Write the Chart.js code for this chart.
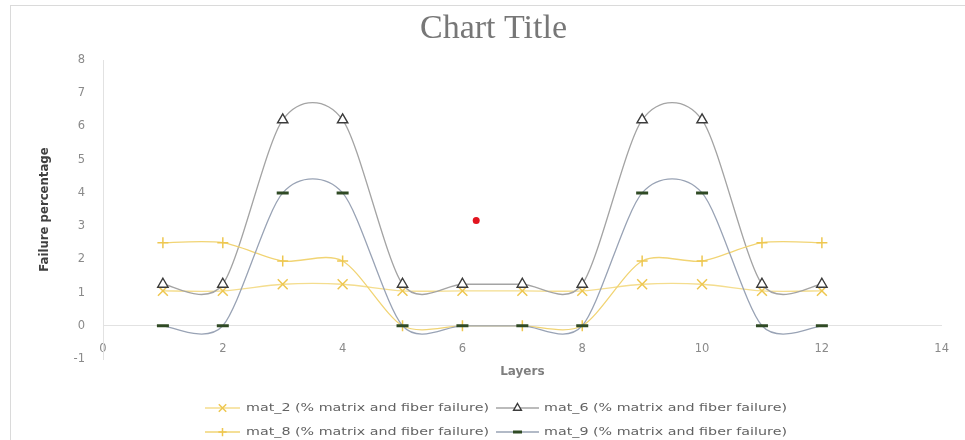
<!DOCTYPE html>
<html>
<head>
<meta charset="utf-8">
<script src="https://cdn.jsdelivr.net/npm/chart.js@4.4.1/dist/chart.umd.min.js"></script>
<style>
  html, body { margin: 0; padding: 0; background: #ffffff; }
  #wrap { position: relative; width: 965px; height: 440px; overflow: hidden; }
  #frame { position: absolute; left: 10px; top: 5px; right: 0; bottom: 0;
           border-top: 1px solid #dadada; border-left: 1px solid #dadada; }
  #chart { position: absolute; left: 0; top: 0; }
</style>
</head>
<body>
<div id="wrap">
  <div id="frame"></div>
  <canvas id="chart" width="965" height="440"></canvas>
</div>
<script>
// Layer numbers along the x axis
const layers = [1, 2, 3, 4, 5, 6, 7, 8, 9, 10, 11, 12];

// Failure percentage per layer for each material
const mat2 = [1.05, 1.05, 1.25, 1.25, 1.05, 1.05, 1.05, 1.05, 1.25, 1.25, 1.05, 1.05];
const mat6 = [1.25, 1.25, 6.2, 6.2, 1.25, 1.25, 1.25, 1.25, 6.2, 6.2, 1.25, 1.25];
const mat8 = [2.5, 2.5, 1.95, 1.95, 0, 0, 0, 0, 1.95, 1.95, 2.5, 2.5];
const mat9 = [0, 0, 4, 4, 0, 0, 0, 0, 4, 4, 0, 0];

// Single loose point on the plot
const loosePoint = [{ x: 6.23, y: 3.17 }];

// Series names
const seriesNames = [
  'mat_2 (% matrix and fiber failure)',
  'mat_6 (% matrix and fiber failure)',
  'mat_8 (% matrix and fiber failure)',
  'mat_9 (% matrix and fiber failure)'
];

// Axis tick values
const xTicks = [0, 2, 4, 6, 8, 10, 12, 14];
const yTicks = [-1, 0, 1, 2, 3, 4, 5, 6, 7, 8];

const toXY = (vals) => layers.map((x, i) => ({ x: x, y: vals[i] }));

Chart.defaults.font.family = '"DejaVu Sans", Verdana, sans-serif';

// Spreadsheet-style smoothing: each control point sits a fixed fraction of the
// neighbour-to-neighbour chord away from its point (uniform Catmull-Rom style).
const smoothFactor = 0.14;
const uniformSmoothing = {
  id: 'uniformSmoothing',
  beforeDatasetDraw(chart, args) {
    const line = args.meta.dataset;
    if (!line || !line.options || !line.options.tension) return;
    line.updateControlPoints(chart.chartArea);
    const pts = args.meta.data;
    const n = pts.length;
    for (let i = 0; i < n; i++) {
      const p = pts[i];
      const prev = pts[Math.max(i - 1, 0)];
      const next = pts[Math.min(i + 1, n - 1)];
      const dx = (next.x - prev.x) * smoothFactor;
      const dy = (next.y - prev.y) * smoothFactor;
      p.cp1x = p.x - dx; p.cp1y = p.y - dy;
      p.cp2x = p.x + dx; p.cp2y = p.y + dy;
    }
    line._path = undefined;
  }
};

// Legend in two rows: line sample with marker, then the series name
const legendRows = [
  { ds: 0, x0: 205, x1: 240, tx: 246, y: 408 },
  { ds: 1, x0: 496, x1: 539, tx: 544, y: 408 },
  { ds: 2, x0: 205, x1: 240, tx: 246, y: 432 },
  { ds: 3, x0: 496, x1: 539, tx: 544, y: 432 }
];
const legendTextWidth = 243;

const seriesLegend = {
  id: 'seriesLegend',
  afterDraw(chart) {
    const ctx = chart.ctx;
    ctx.save();
    ctx.font = '11px "DejaVu Sans", Verdana, sans-serif';
    ctx.textBaseline = 'middle';
    ctx.textAlign = 'left';
    legendRows.forEach((item) => {
      const ds = chart.data.datasets[item.ds];
      ctx.strokeStyle = ds.borderColor;
      ctx.lineWidth = ds.borderWidth;
      ctx.beginPath();
      ctx.moveTo(item.x0, item.y);
      ctx.lineTo(item.x1, item.y);
      ctx.stroke();

      ctx.strokeStyle = ds.pointBorderColor;
      ctx.fillStyle = ds.pointBackgroundColor;
      ctx.lineWidth = ds.pointBorderWidth;
      Chart.helpers.drawPoint(ctx, {
        pointStyle: ds.pointStyle,
        radius: ds.pointRadius * 0.75,
        rotation: 0,
        borderWidth: ds.pointBorderWidth
      }, (item.x0 + item.x1) / 2, item.y);

      ctx.fillStyle = '#636363';
      const w = ctx.measureText(ds.label).width;
      ctx.save();
      ctx.translate(item.tx, item.y);
      ctx.scale(legendTextWidth / w, 1);
      ctx.fillText(ds.label, 0, 0);
      ctx.restore();
    });
    ctx.restore();
  }
};

new Chart(document.getElementById('chart'), {
  type: 'line',
  data: {
    datasets: [
      {
        label: seriesNames[0],
        data: toXY(mat2),
        borderColor: '#f4dd8e',
        borderWidth: 1.3,
        tension: 0.4,
        pointStyle: 'crossRot',
        pointRadius: 7,
        pointBorderColor: '#eec750',
        pointBackgroundColor: '#eec750',
        pointBorderWidth: 1.5,
        order: 4
      },
      {
        label: seriesNames[1],
        data: toXY(mat6),
        borderColor: '#a4a4a4',
        borderWidth: 1.3,
        tension: 0.4,
        pointStyle: 'triangle',
        pointRadius: 6,
        pointBorderColor: '#3c3c3c',
        pointBackgroundColor: '#ffffff',
        pointBorderWidth: 1.4,
        order: 3
      },
      {
        label: seriesNames[2],
        data: toXY(mat8),
        borderColor: '#f1d474',
        borderWidth: 1.3,
        tension: 0.4,
        pointStyle: 'cross',
        pointRadius: 5.5,
        pointBorderColor: '#eec750',
        pointBackgroundColor: '#eec750',
        pointBorderWidth: 1.5,
        order: 2
      },
      {
        label: seriesNames[3],
        data: toXY(mat9),
        borderColor: '#99a3b5',
        borderWidth: 1.3,
        tension: 0.4,
        pointStyle: 'line',
        pointRadius: 6,
        pointBorderColor: '#2f4a24',
        pointBackgroundColor: '#2f4a24',
        pointBorderWidth: 3,
        order: 1
      },
      {
        label: 'point',
        data: loosePoint,
        showLine: false,
        pointStyle: 'circle',
        pointRadius: 3.5,
        pointBackgroundColor: '#e2141f',
        pointBorderColor: '#e2141f',
        pointBorderWidth: 0,
        order: 0
      }
    ]
  },
  options: {
    responsive: false,
    animation: false,
    events: [],
    layout: { padding: { left: 44, right: 22, top: 0, bottom: 51 } },
    plugins: {
      legend: { display: false },
      tooltip: { enabled: false },
      title: {
        display: true,
        text: 'Chart Title',
        color: '#777777',
        font: { family: '"Liberation Serif", "Times New Roman", serif', size: 34, weight: 'normal' },
        padding: { top: 9, bottom: 10.2 }
      }
    },
    scales: {
      x: {
        type: 'linear',
        position: { y: 0 },
        min: 0,
        max: 14,
        afterBuildTicks: (s) => { s.ticks = xTicks.map((v) => ({ value: v })); },
        ticks: { color: '#8a8a8a', font: { size: 11.5 }, padding: 16 },
        grid: { display: false, drawTicks: false },
        border: { display: true, color: '#e2e2e2', width: 1 }
      },
      x2: {
        type: 'linear',
        axis: 'x',
        position: 'bottom',
        min: 0,
        max: 14,
        ticks: { display: false },
        grid: { display: false, drawTicks: false },
        border: { display: false },
        title: {
          display: true,
          text: 'Layers',
          color: '#7f7f7f',
          font: { size: 12, weight: 'bold' },
          padding: { top: 0, bottom: 10 }
        },
        afterFit: (s) => { s.height = 30; }
      },
      y: {
        type: 'linear',
        min: -1,
        max: 8,
        afterBuildTicks: (s) => { s.ticks = yTicks.map((v) => ({ value: v })); },
        ticks: { color: '#8a8a8a', font: { size: 11.5 }, padding: 18 },
        grid: { display: false, drawTicks: false },
        border: { display: true, color: '#e2e2e2', width: 1 },
        title: {
          display: true,
          text: 'Failure percentage',
          color: '#404040',
          font: { family: '"Liberation Sans Narrow", "DejaVu Sans Condensed", sans-serif', size: 13, weight: 'bold' },
          padding: { top: -7, bottom: 0 }
        },
        afterFit: (s) => { s.width = 59; }
      }
    }
  },
  plugins: [uniformSmoothing, seriesLegend]
});
</script>
</body>
</html>
